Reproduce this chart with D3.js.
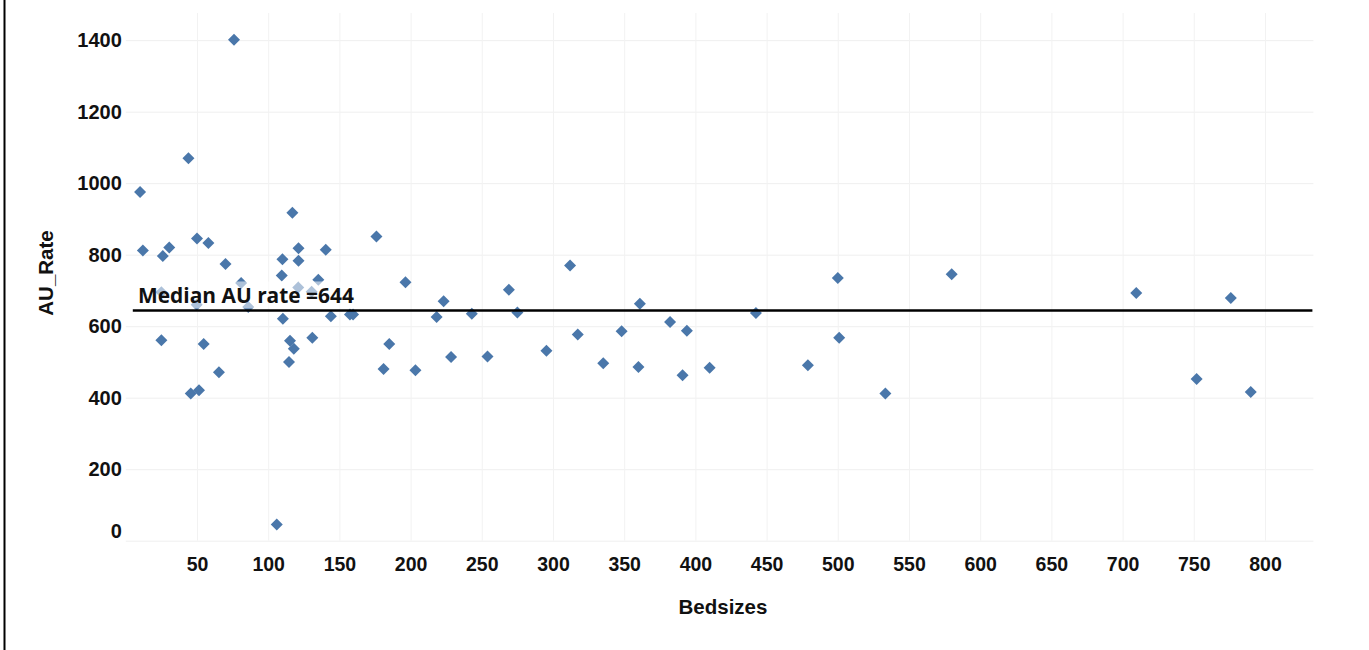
<!DOCTYPE html>
<html><head><meta charset="utf-8">
<script src="https://cdn.jsdelivr.net/npm/d3@7/dist/d3.min.js"></script>
<style>html,body{margin:0;padding:0;background:#fff;} svg{display:block;}</style>
</head><body>
<svg id="c" width="1369" height="650"></svg>
<script>
const bedsizes = [10,12,26,30.5,25,25,44,50,58,45.6,51.4,54.7,65.4,70,76,81,49.8,86,106,109.5,110,110.3,114.6,115.3,117,118,121.3,121.3,121.1,130.5,131,135.2,140.4,144,157.4,159.6,176,181,185,196.4,203.4,218.3,223.2,228.4,243,254,269,275,295.4,312,317.4,335.3,348.2,361,360,382.2,394,391,410,442.5,479,500,501,533.4,580,709.6,752,776,790];
const auRates = [975,812,796,820,695,561,1070,845,833,412,421,550,471,774,1401,721,660,654,45,742,787,621,500,559,917,537,818,783,708,696,568,730,814,628,633,633,851,480,550,723,477,626,670,514,635,515,702,638,531,770,577,496,586,663,486,612,587,463,484,637,491,735,568,412,745,693,452,679,416];
const xTicks = [50,100,150,200,250,300,350,400,450,500,550,600,650,700,750,800];
const yTicks = [0,200,400,600,800,1000,1200,1400];
const medianRate = 644;
const medianLabel = "Median AU rate =" + medianRate;
const xTitle = "Bedsizes";
const yTitle = "AU_Rate";

const svg = d3.select('#c');
const x = d3.scaleLinear().domain([0, 834]).range([125.8, 1313.4]);
const y = d3.scaleLinear().domain([0, 1476]).range([540.7, 13]);
const tickFont = '"Liberation Sans", Arial, sans-serif';

// left frame line
svg.append('line').attr('x1',4.5).attr('x2',4.5).attr('y1',0).attr('y2',650)
  .attr('stroke','#000').attr('stroke-width',2);

// gridlines
const grid = svg.append('g');
grid.selectAll('line.h').data(yTicks).join('line').attr('class','h')
  .attr('x1', x.range()[0]).attr('x2', x.range()[1])
  .attr('y1', d=>y(d)+0.5).attr('y2', d=>y(d)+0.5)
  .attr('stroke','#efefef').attr('stroke-width',1);
grid.selectAll('line.v').data(xTicks).join('line').attr('class','v')
  .attr('x1', d=>x(d)+0.5).attr('x2', d=>x(d)+0.5)
  .attr('y1', y.range()[1]).attr('y2', y(0))
  .attr('stroke','#f2f2f2').attr('stroke-width',1);

// axes
const yAxis = svg.append('g').attr('transform',`translate(${x.range()[0]},0)`)
  .call(d3.axisLeft(y).tickValues(yTicks).tickSize(0).tickPadding(4).tickFormat(d3.format('d')));
yAxis.select('.domain').remove();
yAxis.selectAll('text').attr('font-size',20).attr('font-weight','bold')
  .attr('font-family',tickFont).attr('fill','#111')
  .attr('dy', d => d === 0 ? '-0.18em' : '0.32em');

const xAxis = svg.append('g').attr('transform',`translate(0,${y(0)})`)
  .call(d3.axisBottom(x).tickValues(xTicks).tickSize(0).tickPadding(16).tickFormat(d3.format('d')));
xAxis.select('.domain').remove();
xAxis.selectAll('text').attr('font-size',19.5).attr('font-weight','bold')
  .attr('font-family',tickFont).attr('fill','#111');

// axis titles
svg.append('text').attr('x',723).attr('y',613.5).attr('text-anchor','middle')
  .attr('font-family',tickFont).attr('font-weight','bold').attr('font-size',20.5)
  .attr('fill','#111').text(xTitle);
svg.append('text').attr('transform','translate(53,273) rotate(-90)').attr('text-anchor','middle')
  .attr('font-family',tickFont).attr('font-weight','bold').attr('font-size',20.5)
  .attr('fill','#111').text(yTitle);

// points
const pts = bedsizes.map((b,i)=>({b, r: auRates[i]}));
const sym = d3.symbol().type(d3.symbolSquare).size(72);
svg.append('g').selectAll('path').data(pts).join('path')
  .attr('d', sym)
  .attr('transform', d=>`translate(${x(d.b)},${y(d.r)}) rotate(45)`)
  .attr('fill','#4a77aa');

// median label with translucent background
const lbl = svg.append('g');
const bg = lbl.append('rect').attr('fill','#fff').attr('fill-opacity',0.55);
const t = lbl.append('text').attr('x', 138).attr('y', y(medianRate) - 7.5)
  .attr('font-family','"Open Sans", "Noto Sans", sans-serif').attr('font-weight','bold')
  .attr('font-size',20).attr('fill','#111').text(medianLabel);
const w = t.node().getComputedTextLength();
t.attr('font-size', 20 * 216 / w);
bg.attr('x',134).attr('y', y(medianRate) - 29).attr('width',224).attr('height',27);

// median line
svg.append('line').attr('x1', x.range()[0] + 7).attr('x2', x.range()[1] - 1)
  .attr('y1', y(medianRate)).attr('y2', y(medianRate))
  .attr('stroke','#000').attr('stroke-width',2.5);
</script>
</body></html>
